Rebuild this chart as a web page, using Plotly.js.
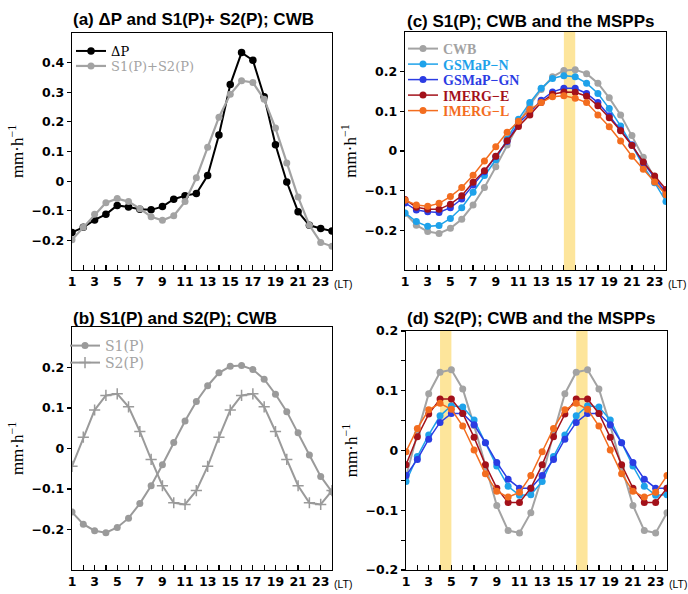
<!DOCTYPE html>
<html>
<head>
<meta charset="utf-8">
<script src="https://cdn.plot.ly/plotly-3.0.1.min.js"></script>
<style>html,body{margin:0;padding:0;background:#fff;}#chart{width:688px;height:594px;}</style>
</head>
<body>
<div id="chart"></div>
<script>
// ---------- data ----------
const hours = [1,2,3,4,5,6,7,8,9,10,11,12,13,14,15,16,17,18,19,20,21,22,23,24];
const hourLabels = ["1","","3","","5","","7","","9","","11","","13","","15","","17","","19","","21","","23",""];

// (a) CWB
const deltaP = [-0.173,-0.156,-0.131,-0.112,-0.082,-0.087,-0.095,-0.097,-0.086,-0.061,-0.049,-0.042,
                0.019,0.156,0.326,0.434,0.408,0.285,0.123,-0.003,-0.103,-0.149,-0.160,-0.168];
const s1PlusS2 = [-0.198,-0.156,-0.112,-0.073,-0.059,-0.069,-0.093,-0.120,-0.132,-0.117,-0.069,0.011,
                  0.114,0.216,0.293,0.339,0.333,0.276,0.179,0.061,-0.054,-0.149,-0.207,-0.220];

// (b) CWB harmonics
const cwbS1 = [-0.157,-0.187,-0.203,-0.208,-0.195,-0.172,-0.136,-0.092,-0.040,0.015,0.068,0.116,
               0.155,0.187,0.203,0.205,0.195,0.171,0.134,0.091,0.039,-0.016,-0.069,-0.107];
const cwbS2 = [-0.044,0.028,0.095,0.131,0.135,0.103,0.042,-0.027,-0.092,-0.134,-0.138,-0.104,
               -0.044,0.028,0.095,0.131,0.135,0.103,0.042,-0.027,-0.092,-0.134,-0.138,-0.104];

// (c) S1(P) of the MSPPs
const gsmapNS1  = [-0.156,-0.178,-0.190,-0.188,-0.170,-0.143,-0.104,-0.062,-0.022,0.030,0.080,0.122,
                   0.158,0.183,0.190,0.187,0.171,0.145,0.107,0.063,0.015,-0.038,-0.080,-0.127];
const gsmapGNS1 = [-0.131,-0.149,-0.153,-0.155,-0.143,-0.121,-0.086,-0.052,-0.014,0.024,0.070,0.097,
                   0.128,0.149,0.158,0.158,0.145,0.122,0.089,0.053,0.015,-0.030,-0.068,-0.105];
const imergES1  = [-0.122,-0.142,-0.147,-0.147,-0.134,-0.113,-0.079,-0.050,-0.013,0.026,0.062,0.091,
                   0.122,0.143,0.149,0.148,0.138,0.114,0.084,0.051,0.014,-0.028,-0.063,-0.097];
const imergLS1  = [-0.124,-0.136,-0.139,-0.132,-0.115,-0.092,-0.061,-0.025,0.011,0.047,0.075,0.105,
                   0.122,0.137,0.139,0.133,0.122,0.091,0.061,0.025,-0.013,-0.046,-0.078,-0.110];

// (d) S2(P) of the MSPPs
const gsmapNS2  = [-0.052,-0.010,0.026,0.058,0.075,0.073,0.051,0.013,-0.026,-0.060,-0.075,-0.074,
                   -0.052,-0.010,0.026,0.058,0.075,0.073,0.051,0.013,-0.026,-0.060,-0.075,-0.074];
const gsmapGNS2 = [-0.042,-0.015,0.019,0.047,0.062,0.062,0.043,0.013,-0.020,-0.048,-0.063,-0.063,
                   -0.042,-0.015,0.019,0.047,0.062,0.062,0.043,0.013,-0.020,-0.048,-0.063,-0.063];
const imergES2  = [-0.024,0.023,0.061,0.086,0.086,0.062,0.022,-0.024,-0.063,-0.087,-0.087,-0.063,
                   -0.024,0.023,0.061,0.086,0.086,0.062,0.022,-0.024,-0.063,-0.087,-0.087,-0.063];
const imergLS2  = [-0.002,0.037,0.068,0.079,0.069,0.041,0.001,-0.039,-0.068,-0.078,-0.070,-0.042,
                   -0.002,0.037,0.068,0.079,0.069,0.041,0.001,-0.039,-0.068,-0.078,-0.070,-0.042];

// highlighted peak hours
const bandC = [[15,16]];
const bandD = [[4,5],[16,17]];

// y ticks
const yTicksA = [-0.2,-0.1,0,0.1,0.2,0.3,0.4];
const yTicksBC = [-0.2,-0.1,0,0.1,0.2];
const yTicksD = [-0.2,-0.15,-0.1,-0.05,0,0.05,0.1,0.15,0.2];
const yLabelsD = ["\u22120.2","","\u22120.1","","0","","0.1","","0.2"];

// ---------- styles ----------
const C = {black:'#000000', gray:'#a3a3a3', grayB:'#9a9a9a', lblue:'#1ea2ea', blue:'#2b3ce3', dred:'#a3111a', orange:'#f36d1f', band:'#fde59b'};
const tickFont = {family:'DejaVu Sans', size:12.5, color:'#000', weight:'bold'};

function xax(domain, anchor){
  return {domain:domain, anchor:anchor, range:[1,24], tickmode:'array', tickvals:hours, ticktext:hourLabels,
    ticks:'inside', ticklen:5, tickwidth:1.2, tickcolor:'#000', showline:true, mirror:true, linecolor:'#000', linewidth:1.3,
    showgrid:false, zeroline:false, tickfont:tickFont, fixedrange:true};
}
function yax(domain, anchor, range, vals, text){
  const a = {domain:domain, anchor:anchor, range:range, tickmode:'array', tickvals:vals,
    ticks:'outside', ticklen:4, tickwidth:1.2, tickcolor:'#000', showline:true, mirror:true, linecolor:'#000', linewidth:1.3,
    showgrid:false, zeroline:false, tickfont:tickFont, fixedrange:true,
    title:{text:'mm\u00b7h<sup>\u22121</sup>', font:{family:'Liberation Serif', size:17, color:'#000'}, standoff:3}};
  if (text) a.ticktext = text;
  return a;
}
const col = (txt, c) => '<span style="color:' + c + '">' + txt + '</span>';

function tr(y, name, color, xa, ya, leg, opts){
  opts = opts || {};
  const t = {x:hours, y:y, name:name, type:'scatter', mode:'lines+markers', xaxis:xa, yaxis:ya,
    showlegend: leg !== null, line:{color:color, width:opts.lw||2},
    marker:{color:color, size:opts.ms||7, symbol:opts.sym||'circle', line:{width:opts.mlw||0, color:color}},
    cliponaxis:true};
  if (leg) t.legend = leg;
  return t;
}

const data = [
  // (a)
  tr(deltaP, '\u0394P', C.black, 'x', 'y', 'legend', {lw:2, ms:7.5}),
  tr(s1PlusS2, col('S1(P)+S2(P)', C.gray), C.gray, 'x', 'y', 'legend', {lw:2.2, ms:7}),
  // (b)
  tr(cwbS1, 'S1(P)', C.grayB, 'x2', 'y2', 'legend2', {lw:2, ms:7}),
  tr(cwbS2, 'S2(P)', C.grayB, 'x2', 'y2', 'legend2', {lw:2, ms:8, sym:'cross-thin', mlw:1.5}),
  // (c)
  tr(cwbS1, col('CWB', C.gray), C.gray, 'x3', 'y3', 'legend3', {lw:2, ms:7}),
  tr(gsmapNS1, col('GSMaP\u2212N', C.lblue), C.lblue, 'x3', 'y3', 'legend3', {lw:1.5, ms:7}),
  tr(gsmapGNS1, col('GSMaP\u2212GN', C.blue), C.blue, 'x3', 'y3', 'legend3', {lw:1.5, ms:7}),
  tr(imergES1, col('IMERG\u2212E', C.dred), C.dred, 'x3', 'y3', 'legend3', {lw:1.5, ms:7}),
  tr(imergLS1, col('IMERG\u2212L', C.orange), C.orange, 'x3', 'y3', 'legend3', {lw:1.5, ms:7}),
  // (d)
  tr(cwbS2, 'CWB', C.gray, 'x4', 'y4', null, {lw:2, ms:7}),
  tr(gsmapNS2, 'GSMaP\u2212N', C.lblue, 'x4', 'y4', null, {lw:1.5, ms:7}),
  tr(gsmapGNS2, 'GSMaP\u2212GN', C.blue, 'x4', 'y4', null, {lw:1.5, ms:7}),
  tr(imergES2, 'IMERG\u2212E', C.dred, 'x4', 'y4', null, {lw:1.5, ms:7}),
  tr(imergLS2, 'IMERG\u2212L', C.orange, 'x4', 'y4', null, {lw:1.5, ms:7})
];

const W = 688, H = 594;
const px = v => v / W, py = v => 1 - v / H;

const shapes = [];
bandC.forEach(b => shapes.push({type:'rect', xref:'x3', yref:'y3 domain', x0:b[0], x1:b[1], y0:0, y1:1, fillcolor:C.band, line:{width:0}, layer:'below'}));
bandD.forEach(b => shapes.push({type:'rect', xref:'x4', yref:'y4 domain', x0:b[0], x1:b[1], y0:0, y1:1, fillcolor:C.band, line:{width:0}, layer:'below'}));

const titleFont = {family:'Liberation Sans', size:17, color:'#000', weight:'bold'};
const annotations = [
  {text:'(a) \u0394P and S1(P)+ S2(P); CWB', xref:'paper', yref:'paper', x:px(71), y:py(20), xanchor:'left', yanchor:'middle', showarrow:false, font:titleFont},
  {text:'(b) S1(P) and S2(P); CWB', xref:'paper', yref:'paper', x:px(71), y:py(318), xanchor:'left', yanchor:'middle', showarrow:false, font:titleFont},
  {text:'(c) S1(P); CWB and the MSPPs', xref:'paper', yref:'paper', x:px(405), y:py(21), xanchor:'left', yanchor:'middle', showarrow:false, font:titleFont},
  {text:'(d) S2(P); CWB and the MSPPs', xref:'paper', yref:'paper', x:px(405), y:py(318), xanchor:'left', yanchor:'middle', showarrow:false, font:titleFont}
];
['x','x2','x3','x4'].forEach((xa, i) => {
  const ya = ['y','y2','y3','y4'][i];
  annotations.push({text:'(LT)', xref:xa, yref:ya + ' domain', x:24, y:0, xanchor:'left', yanchor:'top', xshift:0, yshift:-6,
    showarrow:false, font:{family:'Liberation Sans', size:10.5, color:'#000'}});
});

const legBase = {xanchor:'left', yanchor:'top', bgcolor:'rgba(0,0,0,0)', tracegroupgap:0, itemwidth:30, borderwidth:0};
const layout = {
  width:W, height:H, margin:{l:0, r:0, t:0, b:0}, paper_bgcolor:'#fff', plot_bgcolor:'rgba(0,0,0,0)',
  xaxis: xax([px(72), px(332)], 'y'),
  yaxis: yax([py(270), py(33)], 'x', [-0.3, 0.5], yTicksA),
  xaxis2: xax([px(72), px(332)], 'y2'),
  yaxis2: yax([py(570), py(327)], 'x2', [-0.3, 0.3], yTicksBC),
  xaxis3: xax([px(405), px(666)], 'y3'),
  yaxis3: yax([py(270), py(32)], 'x3', [-0.3, 0.3], yTicksBC),
  xaxis4: xax([px(406), px(667)], 'y4'),
  yaxis4: yax([py(570), py(331)], 'x4', [-0.2, 0.2], yTicksD, yLabelsD),
  legend:  Object.assign({x:px(71), y:py(36), font:{family:'DejaVu Serif', size:13, color:'#000'}}, legBase),
  legend2: Object.assign({x:px(65), y:py(330), font:{family:'DejaVu Serif', size:14, color:C.gray}}, legBase),
  legend3: Object.assign({x:px(403), y:py(33), font:{family:'Liberation Serif', size:14, color:'#000', weight:'bold'}}, legBase),
  shapes: shapes,
  annotations: annotations,
  showlegend: true
};

// tighter legend row spacing, as in the original figure
const legendRowGap = {legend:15, legend2:17, legend3:15.5};

Plotly.newPlot('chart', data, layout, {displayModeBar:false, staticPlot:true}).then(() => {
  Object.keys(legendRowGap).forEach(id => {
    const g = document.querySelector('.infolayer g.' + id);
    if (!g) return;
    const items = g.querySelectorAll('g.traces');
    if (!items.length) return;
    const m = /translate\(\s*([-\d.]+)[ ,]+([-\d.]+)\s*\)/.exec(items[0].getAttribute('transform') || '');
    if (!m) return;
    const x0 = parseFloat(m[1]), y0 = parseFloat(m[2]);
    items.forEach((it, i) => it.setAttribute('transform', 'translate(' + x0 + ',' + (y0 + i * legendRowGap[id]) + ')'));
  });
});
</script>
</body>
</html>
